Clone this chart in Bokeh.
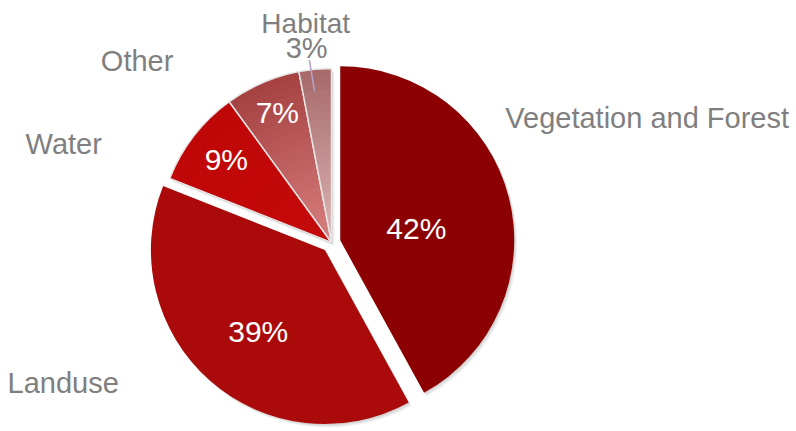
import math
from bokeh.plotting import figure
from bokeh.models import Range1d
from bokeh.embed import file_html
from bokeh.resources import INLINE
from bokeh.core.properties import value

# ---- data ----
categories = ["Vegetation and Forest", "Landuse", "Water", "Other", "Habitat"]
shares = [42, 39, 9, 7, 3]
pct_labels = ["42%", "39%", "9%", "7%", "3%"]

# ---- style ----
outer_colors = ["#8c0203", "#aa0a0a", "#c00707", "#a64242", "#a86a6a"]
inner_colors = ["#8c0203", "#aa0a0a", "#c40a0a", "#d87e7e", "#dcb4b4"]
explode = [9, 10, 0, 0, 0]
pct_dist = [77, 105, 134, 141, None]
pct_ang_shift = [5.5, -2.0, 0.5, 0.8, 0.0]
# outside label placement: (clockwise angle from top in deg, distance px, align)
label_place = [(54.3, 214, "left"), (236.5, 255, "right"), (293.3, 250, "right"),
               (319.0, 241, "right"), (353.3, 221, "center")]
GRAY = "#7f7f7f"
FONT = "Liberation Sans"

W, H = 796, 431
p = figure(width=W, height=H, x_range=Range1d(0, W), y_range=Range1d(0, H),
           output_backend="svg", toolbar_location=None, min_border=0,
           x_axis_location=None, y_axis_location=None, outline_line_color=None)
p.grid.grid_line_color = None
p.background_fill_color = "white"
p.border_fill_color = "white"

# pie centre (screen px 331,242)
CX, CY = 331, H - 242
R = 174

total = float(sum(shares))
starts, ends = [], []
acc = 0.0
for s in shares:
    starts.append(acc / total * 360.0)
    acc += s
    ends.append(acc / total * 360.0)

def polar(theta_deg, d):
    t = math.radians(theta_deg)
    return d * math.sin(t), d * math.cos(t)

def hex2rgb(h):
    h = h.lstrip("#")
    return tuple(int(h[i:i + 2], 16) for i in (0, 2, 4))

def mix(c1, c2, t):
    a, b = hex2rgb(c1), hex2rgb(c2)
    return "#%02x%02x%02x" % tuple(int(round(a[i] + (b[i] - a[i]) * t)) for i in range(3))

verts = []
for i in range(len(shares)):
    mid = (starts[i] + ends[i]) / 2
    ox, oy = polar(mid, explode[i])
    verts.append((CX + ox, CY + oy))

# soft shadows
for i in range(len(shares)):
    vx, vy = verts[i]
    sa = math.radians(90 - ends[i]); ea = math.radians(90 - starts[i])
    for (dx, dy, al) in [(3.0, -3.5, 0.05), (2.0, -2.4, 0.06), (1.0, -1.2, 0.07)]:
        p.wedge(x=vx + dx, y=vy + dy, radius=R, start_angle=sa, end_angle=ea,
                fill_color="black", fill_alpha=al, line_color=None)

# slices
for i in range(len(shares)):
    vx, vy = verts[i]
    sa = math.radians(90 - ends[i]); ea = math.radians(90 - starts[i])
    if outer_colors[i] == inner_colors[i]:
        p.wedge(x=vx, y=vy, radius=R, start_angle=sa, end_angle=ea,
                fill_color=outer_colors[i], line_color=None)
    else:
        N = 24
        for k in range(N):
            rr = R * (1 - k / N)
            col = mix(outer_colors[i], inner_colors[i], k / (N - 1))
            p.wedge(x=vx, y=vy, radius=rr, start_angle=sa, end_angle=ea,
                    fill_color=col, line_color=None)
    if explode[i] == 0:
        p.wedge(x=vx, y=vy, radius=R, start_angle=sa, end_angle=ea,
                fill_color=None, line_color="#e6e6e6", line_width=1.5)

# percentage labels inside
for i in range(len(shares)):
    if pct_dist[i] is None:
        continue
    vx, vy = verts[i]
    mid = (starts[i] + ends[i]) / 2 + pct_ang_shift[i]
    ox, oy = polar(mid, pct_dist[i])
    p.text(x=[vx + ox], y=[vy + oy], text=[pct_labels[i]], text_color="white",
           text_font=value(FONT), text_font_size=value("30px"),
           text_align="center", text_baseline="middle")

# outside category labels
for i, name in enumerate(categories):
    ang, d, al = label_place[i]
    ox, oy = polar(ang, d)
    fs = "28px" if al == "center" else "29px"
    p.text(x=[CX + ox], y=[CY + oy], text=[name], text_color=GRAY,
           text_font=value(FONT), text_font_size=value(fs),
           text_align=al, text_baseline="middle")

# Habitat percentage outside, with leader line
hi = len(shares) - 1
ox, oy = polar(352.7, 196)
p.text(x=[CX + ox], y=[CY + oy], text=[pct_labels[hi]], text_color=GRAY,
       text_font=value(FONT), text_font_size=value("29px"),
       text_align="center", text_baseline="middle")
hmid = (starts[hi] + ends[hi]) / 2
x0, y0 = polar(hmid - 1.5, 184)
x1, y1 = polar(hmid - 1.0, 152)
p.line(x=[CX + x0, CX + x1], y=[CY + y0, CY + y1], line_color="#b4a3cc", line_width=1.5)

open("out.html", "w").write(file_html(p, INLINE))
